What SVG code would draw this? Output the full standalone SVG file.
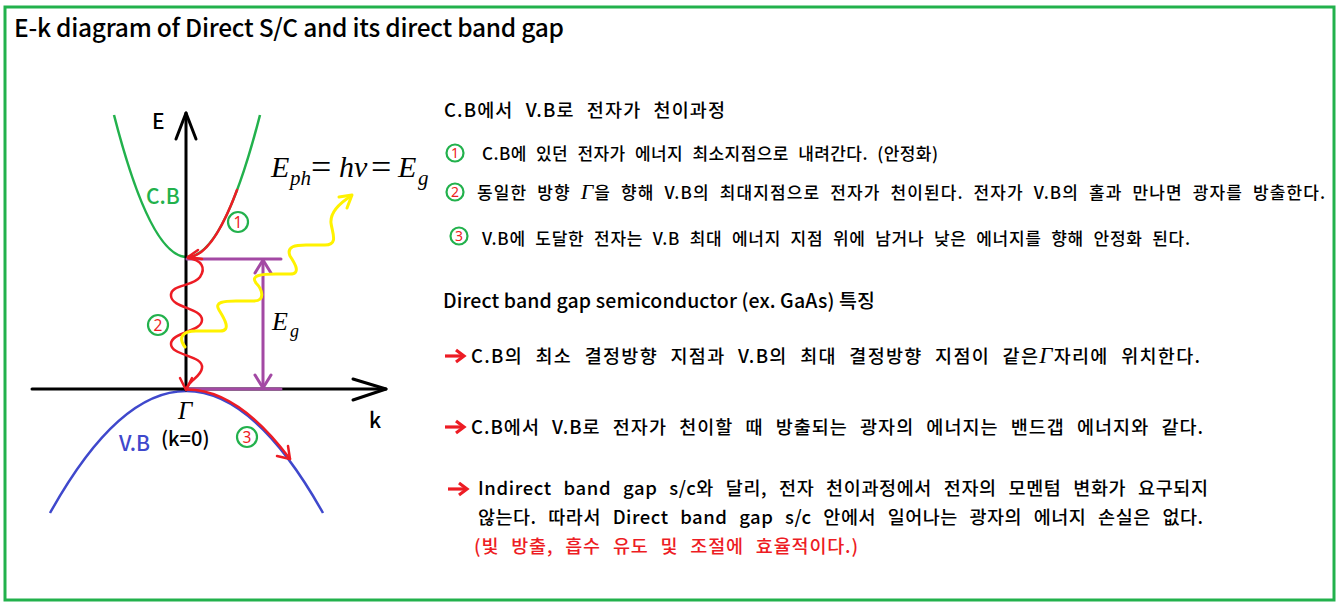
<svg xmlns="http://www.w3.org/2000/svg" width="1339" height="607" viewBox="0 0 1339 607">
<style>
.t{font-family:"Noto Sans CJK KR","Noto Sans",sans-serif;fill:#000;font-weight:500;}
.w5{word-spacing:5px;}
.w7{word-spacing:7px;}
.m{font-family:"Liberation Serif","DejaVu Serif",serif;font-style:italic;font-weight:normal;fill:#000;}
.mu{font-family:"Liberation Serif","DejaVu Serif",serif;fill:#000;}
.cn{fill:none;stroke:#22B14C;stroke-width:2.2;}
.dg{font-family:"Noto Sans","Liberation Sans",sans-serif;fill:#ED1C24;text-anchor:middle;}
.ax{fill:none;stroke:#000;stroke-width:3;stroke-linecap:round;stroke-linejoin:round;}
.red{fill:none;stroke:#ED1C24;stroke-width:2.5;stroke-linecap:round;stroke-linejoin:round;}
.yel{fill:none;stroke:#FFF200;stroke-width:3;stroke-linecap:round;stroke-linejoin:round;}
.pur{fill:none;stroke:#A349A4;stroke-width:3;stroke-linecap:round;stroke-linejoin:round;}
.ra{fill:none;stroke:#ED1C24;stroke-width:3.2;stroke-linecap:butt;stroke-linejoin:miter;}
</style>
<defs>
<g id="rarrow"><path class="ra" d="M0,0 L18,0"/><path class="ra" d="M11,-6 L19,0 L11,6"/></g>
</defs>
<rect x="5" y="7" width="1329" height="593" fill="#fff" stroke="#22B14C" stroke-width="3"/>
<g id="title"><text class="t" x="14" y="37" font-size="24.5" textLength="550" lengthAdjust="spacing">E-k diagram of Direct S/C and its direct band gap</text></g>

<g id="bands">
<path d="M114,115 Q187,399 260,115" fill="none" stroke="#22B14C" stroke-width="2.5"/>
<path d="M50,513 Q186,269 323,513" fill="none" stroke="#3F48CC" stroke-width="2.5"/>
</g>

<g id="axes">
<path class="ax" d="M186,390 L186,113"/>
<path class="ax" d="M176,139 L186,113 L196,139"/>
<path class="ax" d="M32,389 L386,389"/>
<path class="ax" d="M353,379 L386,389 L353,400"/>
<text class="t" x="152" y="129" font-size="21">E</text>
<text class="t" x="369" y="428" font-size="21">k</text>
</g>

<g id="connectors">
<g id="eg-marker">
<path class="pur" d="M187,259 L281,259"/>
<path class="pur" d="M187,389 L281,389"/>
<path class="pur" d="M263,261 L263,387"/>
<path class="pur" d="M255,273 L263,260 L271,273"/>
<path class="pur" d="M255,375 L263,388 L271,375"/>
</g>
<g id="transition1">
<path class="red" d="M237,190 Q212,257 188,257"/>
<path class="red" d="M198,250 L188,257 L202,259"/>
</g>
<g id="transition2">
<path class="red" d="M188,258 C202,260 206,268 200,277 C193,287 170,284 171,296 C172,308 202,308 202,320 C202,332 171,332 171,344 C171,356 204,355 202,368 C201,377 189,380 187,388"/>
<path class="red" d="M180,378 L186,390 L192,378"/>
</g>
<g id="photon">
<path class="yel" d="M185,347 C178,338 182,331 196,331 L220,331 C232,331 224,318 219,310 C214,302 224,301 236,301 L254,301 C266,301 262,289 256,283 C250,275 262,274 276,274 L290,274 C302,274 294,262 290,256 C286,246 296,245 306,245 L325,245 C339,245 332,232 331,223 C330,213 340,203 351,196"/>
<path class="yel" d="M339,197 L352,195 L347,208"/>
</g>
<g id="transition3">
<path class="red" d="M187,389.5 Q238,389.5 290,459"/>
<path class="red" d="M277,456 L290,459 L288,446"/>
</g>
</g>

<g id="labels">
<text class="t" x="146" y="204" font-size="21" style="fill:#22B14C">C.B</text>
<text class="t" x="119" y="451" font-size="21" style="fill:#3F48CC">V.B</text>
<text class="t" x="161" y="446" font-size="20">(k=0)</text>
<text class="m" x="178" y="419" font-size="25">Γ</text>
<g id="eq">
<text class="m" x="271" y="177" font-size="30">E</text>
<text class="m" x="290" y="185" font-size="21">ph</text>
<text class="mu" x="311" y="179" font-size="36">=</text>
<text class="m" x="339" y="177" font-size="30">h</text>
<text class="m" x="354" y="177" font-size="30">ν</text>
<text class="mu" x="371" y="179" font-size="36">=</text>
<text class="m" x="398" y="177" font-size="30">E</text>
<text class="m" x="418" y="185" font-size="21">g</text>
</g>
<g id="eg-label">
<text class="m" x="272" y="330" font-size="26">E</text>
<text class="m" x="290" y="337" font-size="18">g</text>
</g>
<g id="c1"><circle class="cn" cx="238" cy="222" r="10"/><text class="dg" x="238" y="227.5" font-size="15.5">1</text></g>
<g id="c2"><circle class="cn" cx="158" cy="325" r="10"/><text class="dg" x="158" y="330.5" font-size="15.5">2</text></g>
<g id="c3"><circle class="cn" cx="247" cy="437" r="10"/><text class="dg" x="247" y="442.5" font-size="15.5">3</text></g>
</g>

<g id="text-process">
<text class="t w7" x="444" y="117" font-size="18.5" textLength="281" lengthAdjust="spacing">C.B에서 V.B로 전자가 천이과정</text>
<g id="p1"><circle class="cn" cx="455" cy="153" r="8.5"/><text class="dg" x="455" y="158" font-size="14">1</text>
<text class="t w5" x="482" y="160" font-size="17" textLength="456" lengthAdjust="spacing">C.B에 있던 전자가 에너지 최소지점으로 내려간다. (안정화)</text></g>
<g id="p2"><circle class="cn" cx="455" cy="192" r="8.5"/><text class="dg" x="455" y="197" font-size="14">2</text>
<text class="t w5" x="477" y="199" font-size="17" textLength="848" lengthAdjust="spacing">동일한 방향 <tspan class="m" font-size="22">Γ</tspan>을 향해 V.B의 최대지점으로 전자가 천이된다. 전자가 V.B의 홀과 만나면 광자를 방출한다.</text></g>
<g id="p3"><circle class="cn" cx="459" cy="236" r="8.5"/><text class="dg" x="459" y="241" font-size="14">3</text>
<text class="t w5" x="482" y="245" font-size="17" textLength="708" lengthAdjust="spacing">V.B에 도달한 전자는 V.B 최대 에너지 지점 위에 남거나 낮은 에너지를 향해 안정화 된다.</text></g>
</g>

<g id="text-features">
<text class="t" x="443" y="308" font-size="19.5" textLength="432" lengthAdjust="spacing">Direct band gap semiconductor (ex. GaAs)  특징</text>
<g id="f1"><use href="#rarrow" x="445" y="356"/>
<text class="t w7" x="471" y="363" font-size="18.5" textLength="729" lengthAdjust="spacing">C.B의 최소 결정방향 지점과 V.B의 최대 결정방향 지점이 같은<tspan class="m" font-size="23">Γ</tspan>자리에 위치한다.</text></g>
<g id="f2"><use href="#rarrow" x="445" y="427"/>
<text class="t w7" x="471" y="434" font-size="18.5" textLength="732" lengthAdjust="spacing">C.B에서 V.B로 전자가 천이할 때 방출되는 광자의 에너지는 밴드갭 에너지와 같다.</text></g>
<g id="f3"><use href="#rarrow" x="448" y="489"/>
<text class="t w7" x="478" y="495" font-size="18.5" textLength="730" lengthAdjust="spacing">Indirect band gap s/c와 달리, 전자 천이과정에서 전자의 모멘텀 변화가 요구되지</text>
<text class="t w7" x="478" y="524" font-size="18.5" textLength="725" lengthAdjust="spacing">않는다. 따라서 Direct band gap s/c 안에서 일어나는 광자의 에너지 손실은 없다.</text>
<text class="t w7" x="474" y="553" font-size="18.5" textLength="384" lengthAdjust="spacing" style="fill:#ED1C24">(빛 방출, 흡수 유도 및 조절에 효율적이다.)</text></g>
</g>
</svg>
